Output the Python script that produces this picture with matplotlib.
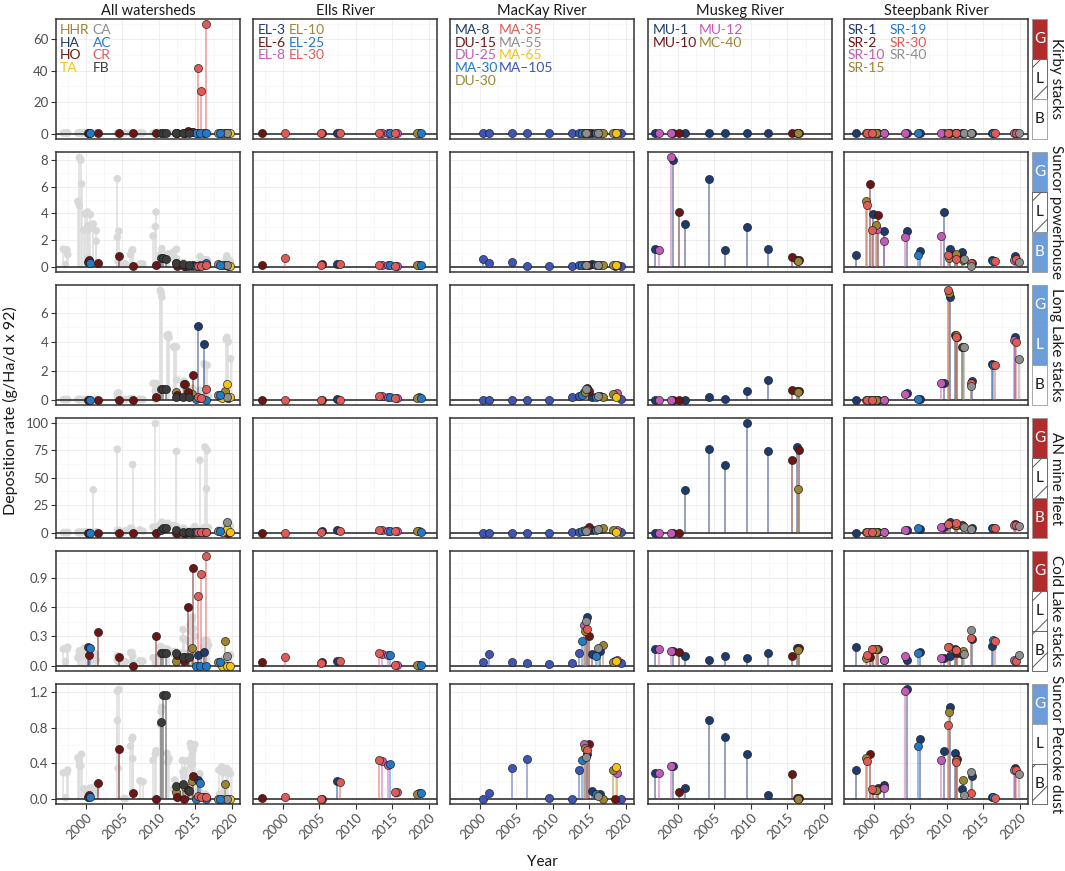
import matplotlib
matplotlib.use("Agg")
import matplotlib.pyplot as plt
from matplotlib.patches import Rectangle
from matplotlib.ticker import MultipleLocator, FixedLocator

plt.rcParams['font.family'] = ['Lato', 'DejaVu Sans']
plt.rcParams['hatch.linewidth'] = 0.7

# ---------------- categories ----------------
ROWS = ["Kirby stacks", "Suncor powerhouse", "Long Lake stacks",
        "AN mine fleet", "Cold Lake stacks", "Suncor Petcoke dust"]
COLUMNS = ["All watersheds", "Ells River", "MacKay River", "Muskeg River", "Steepbank River"]

Y_TICKS = {
    "Kirby stacks": [0, 20, 40, 60],
    "Suncor powerhouse": [0, 2, 4, 6, 8],
    "Long Lake stacks": [0, 2, 4, 6],
    "AN mine fleet": [0, 25, 50, 75, 100],
    "Cold Lake stacks": [0.0, 0.3, 0.6, 0.9],
    "Suncor Petcoke dust": [0.0, 0.4, 0.8, 1.2],
}
Y_TICK_LABELS = {
    "Kirby stacks": ["0", "20", "40", "60"],
    "Suncor powerhouse": ["0", "2", "4", "6", "8"],
    "Long Lake stacks": ["0", "2", "4", "6"],
    "AN mine fleet": ["0", "25", "50", "75", "100"],
    "Cold Lake stacks": ["0.0", "0.3", "0.6", "0.9"],
    "Suncor Petcoke dust": ["0.0", "0.4", "0.8", "1.2"],
}
X_TICKS = [2000, 2005, 2010, 2015, 2020]

# Source-attribution strip (G / L / B): colour code per row
STRIP = {
    "Kirby stacks": ["red", "hatch", "white"],
    "Suncor powerhouse": ["blue", "hatch", "blue"],
    "Long Lake stacks": ["blue", "blue", "white"],
    "AN mine fleet": ["red", "hatch", "red"],
    "Cold Lake stacks": ["red", "hatch", "hatch"],
    "Suncor Petcoke dust": ["blue", "white", "hatch"],
}
STRIP_LETTERS = ["G", "L", "B"]

# ---------------- colours ----------------
NAVY = "#1e3b6d"
DARKRED = "#6c1515"
MAGENTA = "#c25bb8"
OLIVE = "#9b8535"
BLUE = "#2279c6"
RED = "#e05a57"
GRAY = "#8e8e8e"
YELLOW = "#f4c419"
DARKGRAY = "#3b3b3b"
ROYAL = "#3e55b3"

SITE_COLORS = {
    "HHR": OLIVE, "HA": NAVY, "HO": DARKRED, "TA": YELLOW,
    "CA": GRAY, "AC": BLUE, "CR": RED, "FB": DARKGRAY,
    "EL-3": NAVY, "EL-6": DARKRED, "EL-8": MAGENTA,
    "EL-10": OLIVE, "EL-25": BLUE, "EL-30": RED,
    "MA-8": NAVY, "DU-15": DARKRED, "DU-25": MAGENTA, "MA-30": BLUE, "DU-30": OLIVE,
    "MA-35": RED, "MA-55": GRAY, "MA-65": YELLOW, "MA\u2013105": ROYAL,
    "MU-1": NAVY, "MU-10": DARKRED, "MU-12": MAGENTA, "MC-40": OLIVE,
    "SR-1": NAVY, "SR-2": DARKRED, "SR-10": MAGENTA, "SR-15": OLIVE,
    "SR-19": BLUE, "SR-30": RED, "SR-40": GRAY,
}

LEGEND_COLS = {
    "All watersheds": (["HHR", "HA", "HO", "TA"], ["CA", "AC", "CR", "FB"]),
    "Ells River": (["EL-3", "EL-6", "EL-8"], ["EL-10", "EL-25", "EL-30"]),
    "MacKay River": (["MA-8", "DU-15", "DU-25", "MA-30", "DU-30"],
                     ["MA-35", "MA-55", "MA-65", "MA\u2013105"]),
    "Muskeg River": (["MU-1", "MU-10"], ["MU-12", "MC-40"]),
    "Steepbank River": (["SR-1", "SR-2", "SR-10", "SR-15"], ["SR-19", "SR-30", "SR-40"]),
}

# ---------------- data: lakes (All watersheds) ----------------
LAKE_YEARS = {
    "HHR": [2012.3, 2013.6, 2014.5, 2019.1],
    "HA": [2000.3, 2015.4, 2016.2],
    "HO": [2000.4, 2001.7, 2004.5, 2006.5, 2009.6, 2012.5, 2013.4, 2014.0, 2014.7, 2019.4],
    "TA": [2018.6, 2019.3, 2019.7],
    "CA": [2018.1, 2019.3],
    "AC": [2000.6, 2015.1, 2015.6, 2016.4, 2018.3],
    "FB": [2010.3, 2010.6, 2010.9, 2012.3, 2013.3, 2014.1],
    "CR": [2015.4, 2015.8, 2016.4],
}
LAKE_VALUES = {
    "Kirby stacks": {
        "HHR": [0.5, 0.5, 0.8, 0.3], "HA": [0.3, 0.3, 0.3],
        "HO": [0.3, 0.3, 0.3, 0.3, 0.3, 0.5, 0.5, 1.5, 1.0, 0.3],
        "TA": [0.3, 0.3, 0.3], "CA": [0.3, 0.3], "AC": [0.3, 0.3, 0.3, 0.3, 0.3],
        "FB": [0.3, 0.3, 0.3, 0.3, 0.3, 0.3], "CR": [41.5, 27.0, 69.4]},
    "Suncor powerhouse": {
        "HHR": [0.27, 0.05, 0.05, 0.1], "HA": [0.33, 0.07, 0.15],
        "HO": [0.52, 0.25, 0.77, 0.07, 0.12, 0.07, 0.05, 0.05, 0.1, 0.05],
        "TA": [0.1, 0.15, 0.05], "CA": [0.2, 0.1], "AC": [0.3, 0.05, 0.1, 0.25, 0.1],
        "FB": [0.62, 0.62, 0.6, 0.27, 0.2, 0.1], "CR": [0.05, 0.05, 0.1]},
    "Long Lake stacks": {
        "HHR": [0.53, 1.05, 0.38, 0.6], "HA": [0.0, 5.1, 3.85],
        "HO": [0.0, 0.0, 0.0, 0.0, 0.16, 0.33, 1.1, 0.5, 1.7, 0.1],
        "TA": [0.1, 1.05, 0.2], "CA": [0.3, 0.2], "AC": [0.0, 0.05, 0.1, 0.0, 0.3],
        "FB": [0.73, 0.7, 0.7, 0.2, 0.2, 0.2], "CR": [0.16, 0.1, 0.7]},
    "AN mine fleet": {
        "HHR": [0.0, 0.0, 0.0, 0.3], "HA": [0.0, 0.3, 0.3],
        "HO": [0.0, 0.0, 0.0, 0.0, 0.0, 0.0, 0.0, 0.5, 0.3, 0.0],
        "TA": [0.3, 3.0, 0.3], "CA": [1.0, 10.0], "AC": [0.0, 0.3, 0.3, 0.3, 1.0],
        "FB": [2.1, 4.5, 4.0, 2.4, 0.5, 0.3], "CR": [0.3, 0.3, 0.3]},
    "Cold Lake stacks": {
        "HHR": [0.05, 0.09, 0.18, 0.25], "HA": [0.195, 0.11, 0.14],
        "HO": [0.11, 0.34, 0.085, 0.0, 0.3, 0.11, 0.05, 0.6, 1.0, 0.0],
        "TA": [0.0, 0.0, 0.0], "CA": [0.04, 0.1], "AC": [0.185, 0.0, 0.0, 0.0, 0.04],
        "FB": [0.13, 0.13, 0.13, 0.125, 0.085, 0.085], "CR": [0.71, 0.94, 1.12]},
    "Suncor Petcoke dust": {
        "HHR": [0.07, 0.13, 0.2, 0.16], "HA": [0.02, 0.21, 0.02],
        "HO": [0.04, 0.17, 0.56, 0.067, 0.0, 0.02, 0.0, 0.1, 0.25, 0.0],
        "TA": [0.0, 0.0, 0.0], "CA": [0.0, 0.0], "AC": [0.02, 0.0, 0.18, 0.0, 0.0],
        "FB": [0.86, 1.17, 1.17, 0.14, 0.16, 0.08], "CR": [0.03, 0.02, 0.02]},
}

# ---------------- data: Ells River ----------------
ELLS_YEARS = {
    "EL-3": [2005.4, 2007.4], "EL-6": [1997.2],
    "EL-8": [2013.6, 2014.4, 2015.6, 2018.6], "EL-10": [2018.3],
    "EL-25": [2014.6, 2018.9], "EL-30": [2000.3, 2005.2, 2007.8, 2013.2, 2015.3],
}
ELLS_VALUES = {
    "Kirby stacks": {"EL-3": [0.3, 0.3], "EL-6": [0.3], "EL-8": [0.3, 0.3, 0.3, 0.3],
                     "EL-10": [0.3], "EL-25": [0.3, 0.3], "EL-30": [0.3, 0.3, 0.3, 0.3, 0.3]},
    "Suncor powerhouse": {"EL-3": [0.2, 0.2], "EL-6": [0.15], "EL-8": [0.1, 0.1, 0.05, 0.1],
                          "EL-10": [0.1], "EL-25": [0.1, 0.1], "EL-30": [0.65, 0.15, 0.2, 0.1, 0.05]},
    "Long Lake stacks": {"EL-3": [0.0, 0.02], "EL-6": [0.0], "EL-8": [0.22, 0.2, 0.1, 0.15],
                         "EL-10": [0.1], "EL-25": [0.15, 0.1], "EL-30": [0.0, 0.0, 0.0, 0.25, 0.12]},
    "AN mine fleet": {"EL-3": [1.5, 2.5], "EL-6": [0.0], "EL-8": [2.2, 1.8, 1.2, 1.2],
                      "EL-10": [1.2], "EL-25": [1.5, 0.8], "EL-30": [0.0, 0.3, 1.2, 2.0, 1.0]},
    "Cold Lake stacks": {"EL-3": [0.04, 0.05], "EL-6": [0.04], "EL-8": [0.12, 0.11, 0.01, 0.01],
                         "EL-10": [0.01], "EL-25": [0.11, 0.01], "EL-30": [0.09, 0.03, 0.045, 0.13, 0.01]},
    "Suncor Petcoke dust": {"EL-3": [0.0, 0.2], "EL-6": [0.01], "EL-8": [0.42, 0.38, 0.07, 0.06],
                            "EL-10": [0.05], "EL-25": [0.39, 0.06], "EL-30": [0.015, 0.0, 0.19, 0.43, 0.07]},
}

# ---------------- data: MacKay River ----------------
MACKAY_YEARS = {
    "MA\u2013105": [2000.4, 2001.3, 2004.4, 2006.4, 2009.5, 2012.6, 2013.5, 2019.3],
    "MA-8": [2014.6, 2015.3, 2016.4], "DU-15": [2014.9, 2018.5], "DU-25": [2014.3, 2018.8],
    "MA-30": [2014.0, 2015.9], "DU-30": [2014.4, 2016.8, 2018.2], "MA-35": [2014.7],
    "MA-55": [2014.5, 2016.2], "MA-65": [2018.6],
}
MACKAY_VALUES = {
    "Kirby stacks": {"MA\u2013105": [0.3] * 8, "MA-8": [0.3, 0.3, 0.3], "DU-15": [0.3, 0.3],
                     "DU-25": [0.3, 0.3], "MA-30": [0.3, 0.3], "DU-30": [0.3, 0.3, 0.3],
                     "MA-35": [0.3], "MA-55": [0.3, 0.3], "MA-65": [0.3]},
    "Suncor powerhouse": {"MA\u2013105": [0.6, 0.25, 0.37, 0.05, 0.05, 0.05, 0.1, 0.05],
                          "MA-8": [0.15, 0.2, 0.15], "DU-15": [0.1, 0.05], "DU-25": [0.1, 0.15],
                          "MA-30": [0.15, 0.1], "DU-30": [0.1, 0.1, 0.15], "MA-35": [0.15],
                          "MA-55": [0.1, 0.15], "MA-65": [0.1]},
    "Long Lake stacks": {"MA\u2013105": [0.0, 0.0, 0.0, 0.0, 0.0, 0.2, 0.25, 0.05],
                         "MA-8": [0.8, 0.2, 0.25], "DU-15": [0.6, 0.35], "DU-25": [0.5, 0.43],
                         "MA-30": [0.3, 0.2], "DU-30": [0.55, 0.2, 0.35], "MA-35": [0.7],
                         "MA-55": [0.75, 0.27], "MA-65": [0.2]},
    "AN mine fleet": {"MA\u2013105": [0.0, 0.0, 0.0, 0.0, 0.0, 0.3, 0.5, 0.2],
                      "MA-8": [1.5, 2.5, 3.0], "DU-15": [5.5, 1.5], "DU-25": [1.5, 2.4],
                      "MA-30": [1.0, 2.0], "DU-30": [2.0, 4.5, 2.5], "MA-35": [2.5],
                      "MA-55": [1.0, 3.5], "MA-65": [0.3]},
    "Cold Lake stacks": {"MA\u2013105": [0.04, 0.12, 0.04, 0.03, 0.02, 0.03, 0.13, 0.03],
                         "MA-8": [0.5, 0.12, 0.15], "DU-15": [0.3, 0.05], "DU-25": [0.42, 0.06],
                         "MA-30": [0.25, 0.1], "DU-30": [0.35, 0.21, 0.04], "MA-35": [0.38],
                         "MA-55": [0.46, 0.18], "MA-65": [0.05]},
    "Suncor Petcoke dust": {"MA\u2013105": [0.0, 0.063, 0.34, 0.45, 0.01, 0.0, 0.32, 0.0],
                            "MA-8": [0.5, 0.09, 0.05], "DU-15": [0.61, 0.0], "DU-25": [0.62, 0.29],
                            "MA-30": [0.43, 0.05], "DU-30": [0.57, 0.0, 0.32], "MA-35": [0.55],
                            "MA-55": [0.47, 0.03], "MA-65": [0.36]},
}

# ---------------- data: Muskeg River ----------------
MUSKEG_YEARS = {
    "MU-1": [1996.9, 1999.3, 2001.0, 2004.3, 2006.4, 2009.5, 2012.4, 2016.3],
    "MU-12": [1997.4, 1999.1], "MU-10": [2000.2, 2015.6, 2016.6], "MC-40": [2016.5],
}
MUSKEG_VALUES = {
    "Kirby stacks": {"MU-1": [0.3] * 8, "MU-12": [0.3, 0.3], "MU-10": [0.3, 0.4, 0.4], "MC-40": [0.4]},
    "Suncor powerhouse": {"MU-1": [1.3, 8.0, 3.2, 6.6, 1.25, 3.0, 1.3, 0.5], "MU-12": [1.25, 8.2],
                          "MU-10": [4.1, 0.75, 0.5], "MC-40": [0.45]},
    "Long Lake stacks": {"MU-1": [0.0, 0.0, 0.0, 0.2, 0.05, 0.6, 1.35, 0.6], "MU-12": [0.0, 0.0],
                         "MU-10": [0.0, 0.65, 0.6], "MC-40": [0.55]},
    "AN mine fleet": {"MU-1": [0.0, 0.0, 39.0, 76.0, 62.0, 99.5, 74.0, 78.0], "MU-12": [0.0, 0.0],
                      "MU-10": [0.0, 66.0, 75.0], "MC-40": [40.0]},
    "Cold Lake stacks": {"MU-1": [0.17, 0.15, 0.1, 0.06, 0.1, 0.08, 0.13, 0.18], "MU-12": [0.17, 0.15],
                         "MU-10": [0.14, 0.1, 0.18], "MC-40": [0.16]},
    "Suncor Petcoke dust": {"MU-1": [0.29, 0.37, 0.115, 0.88, 0.69, 0.5, 0.045, 0.01], "MU-12": [0.29, 0.37],
                            "MU-10": [0.07, 0.28, 0.01], "MC-40": [0.0]},
}

# ---------------- data: Steepbank River ----------------
STEEP_YEARS = {
    "SR-1": [1997.5, 1999.9, 2001.4, 2004.5, 2006.3, 2009.6, 2010.4, 2011.1, 2012.0, 2013.4, 2016.2, 2019.3],
    "SR-2": [1999.4, 2000.6, 2011.4],
    "SR-10": [2000.4, 2001.4, 2004.3, 2009.2, 2019.2],
    "SR-15": [1998.9, 2000.3, 2010.3, 2011.3, 2012.2],
    "SR-19": [2006.1, 2016.3],
    "SR-30": [1999.1, 1999.7, 2010.2, 2011.2, 2013.3, 2016.6, 2019.5],
    "SR-40": [2012.4, 2013.3, 2019.8],
}
STEEP_VALUES = {
    "Kirby stacks": {"SR-1": [0.3] * 12, "SR-2": [0.3] * 3, "SR-10": [0.3] * 5, "SR-15": [0.3] * 5,
                     "SR-19": [0.3] * 2, "SR-30": [0.3] * 7, "SR-40": [0.3] * 3},
    "Suncor powerhouse": {
        "SR-1": [0.9, 3.95, 2.7, 2.65, 1.2, 4.1, 1.35, 0.9, 1.1, 0.25, 0.5, 0.8],
        "SR-2": [6.2, 3.9, 0.8], "SR-10": [2.8, 1.9, 2.2, 2.3, 0.5],
        "SR-15": [4.9, 3.1, 0.65, 0.95, 0.5], "SR-19": [0.9, 0.45],
        "SR-30": [4.6, 2.75, 0.9, 0.55, 0.3, 0.4, 0.55], "SR-40": [0.6, 0.05, 0.35]},
    "Long Lake stacks": {
        "SR-1": [0.0, 0.0, 0.0, 0.46, 0.03, 1.12, 7.1, 4.45, 3.64, 1.28, 2.47, 4.3],
        "SR-2": [0.0, 0.0, 4.3], "SR-10": [0.0, 0.0, 0.41, 1.12, 4.15],
        "SR-15": [0.0, 0.0, 7.4, 4.5, 3.64], "SR-19": [0.05, 2.4],
        "SR-30": [0.0, 0.0, 7.55, 4.35, 1.14, 2.38, 4.0], "SR-40": [3.64, 0.92, 2.83]},
    "AN mine fleet": {
        "SR-1": [0.0, 0.5, 0.8, 2.0, 3.5, 5.0, 9.5, 7.0, 6.5, 4.0, 4.5, 7.5],
        "SR-2": [0.3, 0.5, 6.5], "SR-10": [0.3, 0.6, 2.0, 5.0, 7.0],
        "SR-15": [0.2, 0.5, 8.0, 6.5, 6.0], "SR-19": [4.0, 4.0],
        "SR-30": [0.2, 0.3, 7.5, 8.5, 3.5, 4.5, 6.5], "SR-40": [5.5, 3.0, 6.0]},
    "Cold Lake stacks": {
        "SR-1": [0.19, 0.175, 0.057, 0.06, 0.135, 0.078, 0.1, 0.17, 0.12, 0.27, 0.2, 0.047],
        "SR-2": [0.09, 0.175, 0.13], "SR-10": [0.175, 0.06, 0.1, 0.08, 0.06],
        "SR-15": [0.08, 0.175, 0.195, 0.16, 0.145], "SR-19": [0.13, 0.26],
        "SR-30": [0.11, 0.175, 0.19, 0.155, 0.28, 0.256, 0.05], "SR-40": [0.115, 0.37, 0.11]},
    "Suncor Petcoke dust": {
        "SR-1": [0.32, 0.1, 0.15, 1.23, 0.67, 0.54, 1.03, 0.51, 0.11, 0.25, 0.02, 0.34],
        "SR-2": [0.5, 0.12, 0.45], "SR-10": [0.1, 0.12, 1.21, 0.43, 0.32],
        "SR-15": [0.46, 0.1, 0.98, 0.44, 0.21], "SR-19": [0.59, 0.02],
        "SR-30": [0.42, 0.11, 0.83, 0.41, 0.06, 0.01, 0.32], "SR-40": [0.04, 0.3, 0.28]},
}

RIVERS = {
    "Ells River": (ELLS_YEARS, ELLS_VALUES),
    "MacKay River": (MACKAY_YEARS, MACKAY_VALUES),
    "Muskeg River": (MUSKEG_YEARS, MUSKEG_VALUES),
    "Steepbank River": (STEEP_YEARS, STEEP_VALUES),
}

# ---------------- layout ----------------
W, H = 1065, 871
COL_LEFT = [56, 253, 450, 648, 844]
ROW_TOP = [19, 152, 285, 418, 551, 684]
PW, PH = 184, 120
LEG_X1 = {"All watersheds": 4, "Ells River": 5, "MacKay River": 5, "Muskeg River": 5, "Steepbank River": 4}
LEG_X2 = {"All watersheds": 36.5, "Ells River": 36, "MacKay River": 49, "Muskeg River": 50.5, "Steepbank River": 46}
STRIP_FILL = {"red": "#b12d2d", "blue": "#6d9dd8", "white": "white", "hatch": "white"}


def rect(l, t, w, h):
    return [l / W, 1 - (t + h) / H, w / W, h / H]


fig = plt.figure(figsize=(W / 100, H / 100), dpi=100)

TXT = "#4d4d4d"


def row_max(row):
    m = 0
    for v in LAKE_VALUES[row].values():
        m = max(m, max(v))
    for _, (yrs, vals) in RIVERS.items():
        for v in vals[row].values():
            m = max(m, max(v))
    return m


def draw_sites(ax, years, values, gray=False):
    for site, yrs in years.items():
        vals = values[site]
        if gray:
            ax.vlines(yrs, 0, vals, colors="#dedede", lw=1.1, zorder=1)
            ax.scatter(yrs, vals, s=30, c="#d9d9d9", edgecolors="none", zorder=1.2)
        else:
            col = SITE_COLORS[site]
            ax.vlines(yrs, 0, vals, colors=col, alpha=0.6, lw=1.1, zorder=2)
            ax.scatter(yrs, vals, s=34, c=col, edgecolors="#1a1a1a", linewidths=0.45, zorder=3)


for ri, row in enumerate(ROWS):
    m = row_max(row)
    ylim = (-0.05 * m, 1.05 * m)
    for ci, colname in enumerate(COLUMNS):
        ax = fig.add_axes(rect(COL_LEFT[ci], ROW_TOP[ri], PW, PH))
        ax.set_xlim(1995.9, 2021.1)
        ax.set_ylim(*ylim)
        ax.xaxis.set_major_locator(FixedLocator(X_TICKS))
        ax.xaxis.set_minor_locator(MultipleLocator(2.5))
        yt = Y_TICKS[row]
        ax.yaxis.set_major_locator(FixedLocator(yt))
        step = yt[1] - yt[0]
        ax.yaxis.set_minor_locator(FixedLocator([t + step / 2 for t in yt[:-1]] + [yt[-1] + step / 2]))
        ax.grid(which="major", color="#ebebeb", lw=0.6, zorder=0)
        ax.grid(which="minor", color="#f3f3f3", lw=0.4, zorder=0)
        ax.set_axisbelow(True)
        for sp in ax.spines.values():
            sp.set_color("#333333")
            sp.set_linewidth(1.1)
        ax.axhline(0, color="#333333", lw=1.2, zorder=1.5)

        if colname == "All watersheds":
            for _, (yrs, vals) in RIVERS.items():
                draw_sites(ax, yrs, vals[row], gray=True)
            draw_sites(ax, LAKE_YEARS, LAKE_VALUES[row])
        else:
            yrs, vals = RIVERS[colname]
            draw_sites(ax, yrs, vals[row])

        ax.tick_params(which="minor", length=0)
        ax.tick_params(which="major", length=3.5, width=0.8, color="#333333",
                       labelsize=9.5, labelcolor=TXT, pad=2)
        if ci == 0:
            ax.set_yticklabels(Y_TICK_LABELS[row])
        else:
            ax.tick_params(axis="y", length=0, labelleft=False)
        if ri == len(ROWS) - 1:
            ax.set_xticklabels([str(x) for x in X_TICKS], rotation=45, ha="right",
                               rotation_mode="anchor")
        else:
            ax.tick_params(axis="x", length=0, labelbottom=False)

        if ri == 0:
            ax.set_title(colname, fontsize=10.5, color="#1a1a1a", pad=3)
            c1, c2 = LEGEND_COLS[colname]
            for k, site in enumerate(c1):
                ax.text(LEG_X1[colname] / PW, 1 - (5 + 12.7 * k) / PH, site, transform=ax.transAxes,
                        color=SITE_COLORS[site], fontsize=10, va="top", ha="left")
            for k, site in enumerate(c2):
                ax.text(LEG_X2[colname] / PW, 1 - (5 + 12.7 * k) / PH, site, transform=ax.transAxes,
                        color=SITE_COLORS[site], fontsize=10, va="top", ha="left")

    # side strip with G/L/B and row label
    sx = fig.add_axes(rect(1032, ROW_TOP[ri], 15, PH))
    sx.set_xlim(0, 1)
    sx.set_ylim(0, 3)
    sx.axis("off")
    for k, style in enumerate(STRIP[row]):
        y0 = 2 - k
        hatched = style == "hatch"
        sx.add_patch(Rectangle((0, y0), 1, 1, facecolor=STRIP_FILL[style],
                               edgecolor="#555555" if hatched else "#9a9a9a",
                               lw=0.6, hatch="/" if hatched else None, clip_on=False))
        tc = "white" if style in ("red", "blue") else "#1a1a1a"
        sx.text(0.5, y0 + 0.5, STRIP_LETTERS[k], color=tc, fontsize=11, ha="center", va="center")
    fig.text(1056 / W, 1 - (ROW_TOP[ri] + PH / 2) / H, row, rotation=-90, fontsize=11,
             color="#1a1a1a", ha="center", va="center")

fig.text(10 / W, 1 - 411 / H, "Deposition rate (g/Ha/d x 92)", rotation=90, fontsize=11.5,
         color="#1a1a1a", ha="center", va="center")
fig.text(542 / W, 1 - 862 / H, "Year", fontsize=11, color="#1a1a1a", ha="center", va="center")

fig.savefig("out.png", dpi=100)
